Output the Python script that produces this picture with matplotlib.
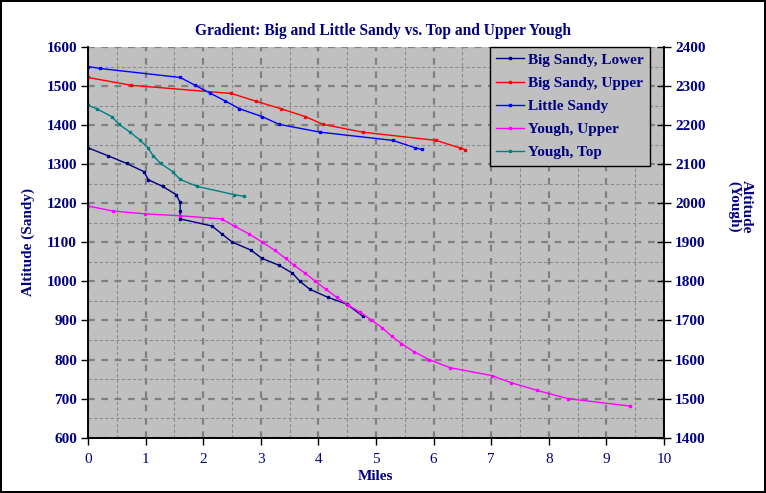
import matplotlib
matplotlib.use("Agg")
import matplotlib.pyplot as plt
from matplotlib.ticker import MultipleLocator

plt.rcParams['font.family'] = ['Liberation Serif', 'DejaVu Serif']

NAVY = '#000080'

# --- Data (miles, altitude) ---
lower_x = [0.0, 0.34, 0.67, 0.97, 1.05, 1.30, 1.53, 1.60, 1.60, 1.60, 2.15, 2.32,
           2.50, 2.83, 3.02, 3.32, 3.55, 3.68, 3.85, 4.17, 4.49, 4.77]
lower_y = [1342, 1322, 1302, 1281, 1260, 1243, 1222, 1202, 1181, 1160, 1142, 1122,
           1101, 1080, 1059, 1041, 1021, 1000, 980, 959, 942, 911]

upper_x = [0.0, 0.75, 2.49, 2.92, 3.35, 3.77, 4.08, 4.77, 6.04, 6.45, 6.55]
upper_y = [1522, 1502, 1481, 1461, 1442, 1422, 1402, 1382, 1361, 1342, 1337]

little_x = [0.0, 0.21, 1.60, 1.86, 2.12, 2.38, 2.63, 3.02, 3.32, 4.03, 5.29, 5.68, 5.79]
little_y = [1550, 1545, 1522, 1502, 1482, 1462, 1442, 1422, 1402, 1382, 1361, 1342, 1338]

yup_x = [0.0, 0.44, 0.99, 1.60, 2.32, 2.55, 2.79, 3.02, 3.24, 3.43, 3.58, 3.77, 3.94,
         4.13, 4.32, 4.52, 4.73, 4.92, 5.11, 5.27, 5.44, 5.66, 5.92, 6.29, 7.01, 7.34,
         7.80, 8.33, 9.41]
yup_y = [1993, 1980, 1973, 1968, 1960, 1941, 1922, 1901, 1880, 1859, 1841, 1821, 1801,
         1780, 1759, 1739, 1721, 1701, 1681, 1660, 1641, 1620, 1600, 1579, 1559, 1541,
         1521, 1500, 1481]

ytop_x = [0.0, 0.15, 0.41, 0.54, 0.73, 0.90, 1.04, 1.13, 1.26, 1.47, 1.60, 1.90, 2.54, 2.70]
ytop_y = [2251, 2242, 2222, 2202, 2182, 2162, 2142, 2122, 2102, 2081, 2061, 2043, 2022, 2018]

x_ticks = list(range(0, 11))
sandy_ticks = list(range(600, 1601, 100))
yough_ticks = list(range(1400, 2401, 100))

fig = plt.figure(figsize=(7.66, 4.93), dpi=100)
fig.patch.set_facecolor('white')
fig.patch.set_edgecolor('black')
fig.patch.set_linewidth(1.5)

ax = fig.add_axes([88 / 766, 1 - 437.7 / 493, (664 - 88) / 766, (437.7 - 47) / 493])
ax.set_facecolor('#C0C0C0')
ax2 = ax.twinx()

kw = dict(marker='s', markersize=2.0, linewidth=1.0)
l1, = ax.plot(lower_x, lower_y, color=NAVY, label='Big Sandy, Lower', **kw)
l2, = ax.plot(upper_x, upper_y, color='#FF0000', label='Big Sandy, Upper', **kw)
l3, = ax.plot(little_x, little_y, color='#0000FF', label='Little Sandy', **kw)
l4, = ax2.plot(yup_x, yup_y, color='#FF00FF', label='Yough, Upper', **kw)
l5, = ax2.plot(ytop_x, ytop_y, color='#008080', label='Yough, Top', **kw)

ax.set_xlim(0, 10)
ax.set_ylim(600, 1600)
ax2.set_ylim(1400, 2400)
ax.set_xticks(x_ticks)
ax.set_yticks(sandy_ticks)
ax2.set_yticks(yough_ticks)
ax.xaxis.set_minor_locator(MultipleLocator(0.5))
ax.yaxis.set_minor_locator(MultipleLocator(50))

ax.set_axisbelow(True)
ax.grid(which='major', color='#808080', linewidth=1.6, linestyle=(0, (3, 3)))
ax.grid(which='minor', color='#8c8c8c', linewidth=0.8, linestyle=(0, (3, 2)))
ax.tick_params(which='minor', length=0)

for a in (ax, ax2):
    a.spines['top'].set_visible(False)
    for s in ('left', 'right', 'bottom'):
        a.spines[s].set_linewidth(1.2)
        a.spines[s].set_color('black')

ax.tick_params(axis='x', direction='out', length=5, width=1, pad=6,
               labelsize=11, labelcolor=NAVY)
ax.tick_params(axis='y', direction='out', length=5, width=1, pad=3,
               labelsize=11, labelcolor=NAVY)
ax2.tick_params(axis='y', direction='inout', length=10, width=1, pad=3,
                labelsize=11, labelcolor=NAVY)
for lab in ax.get_yticklabels() + ax2.get_yticklabels():
    lab.set_fontweight('bold')

ax.set_xlabel('Miles', fontsize=11, fontweight='bold', color=NAVY, labelpad=3)
ax.set_ylabel('Altitude (Sandy)', fontsize=11, fontweight='bold', color=NAVY, labelpad=8)
ax2.set_ylabel('Altitude\n(Yough)', fontsize=11, fontweight='bold', color=NAVY,
               rotation=-90, linespacing=0.95)
ax2.yaxis.set_label_coords((753 - 88) / 576, 1 - (207 - 47) / 390.7)

fig.text(0.5, 1 - 31 / 493, 'Gradient: Big and Little Sandy vs. Top and Upper Yough',
         ha='center', va='center', fontsize=11.2, fontweight='bold', color=NAVY)

leg = fig.legend(handles=[l1, l2, l3, l4, l5], loc='upper right',
                 bbox_to_anchor=(650 / 766, 1 - 47 / 493), borderaxespad=0,
                 fancybox=False, framealpha=1, facecolor='#C0C0C0', edgecolor='black',
                 prop={'size': 11, 'weight': 'bold'}, handlelength=1.8,
                 handletextpad=0.3, labelspacing=0.62, borderpad=0.4, markerscale=0.8)
leg.get_frame().set_linewidth(1.0)
for t in leg.get_texts():
    t.set_color(NAVY)

fig.savefig('out.png', dpi=100, facecolor=fig.get_facecolor(), edgecolor='black')
